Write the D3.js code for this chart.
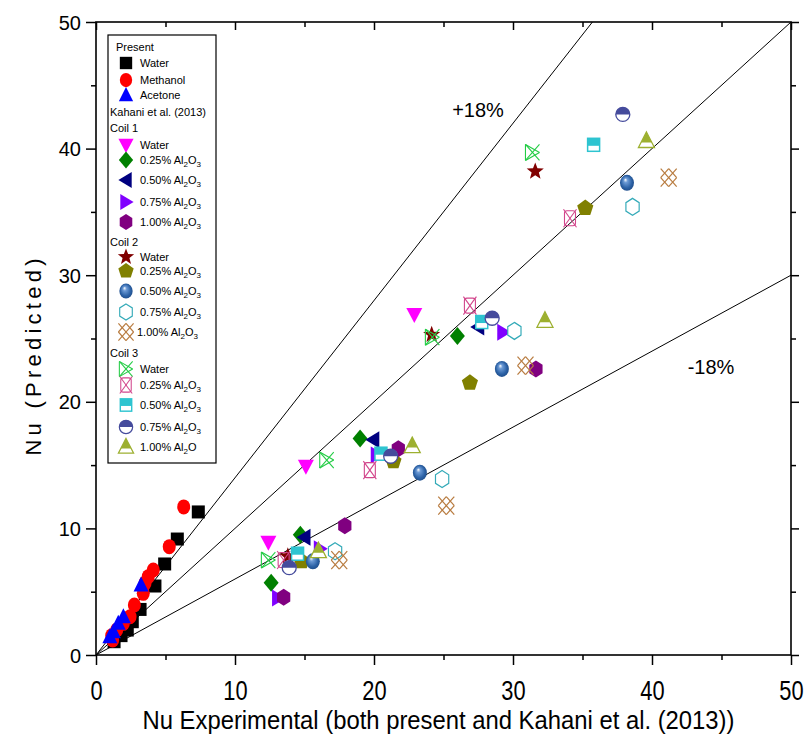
<!DOCTYPE html>
<html>
<head>
<meta charset="utf-8">
<script src="https://cdn.jsdelivr.net/npm/d3@7/dist/d3.min.js"></script>
<style>
  html, body { margin: 0; padding: 0; background: #fff; }
  svg { display: block; }
</style>
</head>
<body>
<svg id="chart" width="804" height="752"></svg>
<script>
// ---- Axis settings ----
const xDomain = [0, 50];
const yDomain = [0, 50];
const xTickValues = [0, 10, 20, 30, 40, 50];
const yTickValues = [0, 10, 20, 30, 40, 50];
const minorTickValues = [5, 15, 25, 35, 45];

// ---- Guide lines: y = slope * x ----
const guideSlopes = [1.4, 1.0, 0.6];
const guideLabels = ["+18%", "-18%"];

// ---- Present work ----
const presentWater = [[1.3,1.05],[1.8,1.53],[2.25,1.97],[2.61,2.63],[3.17,3.6],[4.24,5.45],[4.94,7.19],[5.85,9.16],[7.36,11.3]];
const presentMethanol = [[1.2,1.18],[1.13,1.53],[1.49,1.97],[1.97,2.5],[2.45,3.03],[2.76,3.95],[3.4,4.87],[3.53,5.68],[3.76,6.19],[4.12,6.71],[5.27,8.56],[6.31,11.7]];
const presentAcetone = [[1.0,1.45],[1.25,1.84],[1.6,2.5],[1.97,3.03],[3.24,5.53]];

// ---- Kahani et al. (2013), coil 1 ----
const coil1Water = [[12.4,8.9],[15.1,14.9],[22.9,26.9]];
const coil1Al025 = [[12.6,5.7],[14.7,9.5],[19.0,17.1],[26.0,25.2]];
const coil1Al050 = [[15.0,9.3],[19.95,17.0],[27.5,25.9]];
const coil1Al075 = [[13.1,4.5],[16.1,8.4],[20.2,15.8],[29.3,25.5]];
const coil1Al100 = [[13.5,4.56],[17.9,10.2],[21.75,16.3],[31.65,22.6]];

// ---- Kahani et al. (2013), coil 2 ----
const coil2Water = [[13.8,7.8],[24.15,25.3],[31.6,38.2]];
const coil2Al025 = [[14.8,7.4],[21.4,15.3],[26.9,21.5],[35.2,35.3]];
const coil2Al050 = [[15.6,7.4],[23.3,14.4],[29.2,22.6],[38.2,37.3]];
const coil2Al075 = [[17.2,8.2],[24.9,13.9],[30.1,25.6],[38.6,35.4]];
const coil2Al100 = [[17.5,7.5],[25.2,11.8],[30.9,22.85],[41.2,37.7]];

// ---- Kahani et al. (2013), coil 3 ----
const coil3Water = [[12.4,7.5],[16.6,15.4],[24.2,25.1],[31.4,39.7]];
const coil3Al025 = [[13.5,7.5],[19.7,14.6],[26.9,27.6],[34.1,34.5]];
const coil3Al050 = [[14.5,8.0],[20.5,15.9],[27.75,26.3],[35.8,40.3]];
const coil3Al075 = [[13.9,6.9],[21.2,15.7],[28.5,26.6],[37.9,42.7]];
const coil3Al100 = [[16.0,8.2],[22.75,16.5],[32.3,26.4],[39.6,40.6]];

// series: data, marker type, legend label (al = Al2O3 suffix)
const series = [
  {data: presentWater,    sym: "square",     label: "Water"},
  {data: presentMethanol, sym: "circle",     label: "Methanol"},
  {data: presentAcetone,  sym: "triUp",      label: "Acetone"},
  {data: coil1Water,      sym: "triDown",    label: "Water"},
  {data: coil1Al025,      sym: "diamond",    label: "0.25%", al: "full"},
  {data: coil1Al050,      sym: "triLeft",    label: "0.50%", al: "full"},
  {data: coil1Al075,      sym: "triRight",   label: "0.75%", al: "full"},
  {data: coil1Al100,      sym: "hexFill",    label: "1.00%", al: "full"},
  {data: coil2Water,      sym: "star",       label: "Water"},
  {data: coil2Al025,      sym: "pentagon",   label: "0.25%", al: "full"},
  {data: coil2Al050,      sym: "sphere",     label: "0.50%", al: "full"},
  {data: coil2Al075,      sym: "hexOpen",    label: "0.75%", al: "full"},
  {data: coil2Al100,      sym: "lattice",    label: "1.00%", al: "full"},
  {data: coil3Water,      sym: "triX",       label: "Water"},
  {data: coil3Al025,      sym: "xbox",       label: "0.25%", al: "full"},
  {data: coil3Al050,      sym: "halfSquare", label: "0.50%", al: "full"},
  {data: coil3Al075,      sym: "halfCircle", label: "0.75%", al: "full"},
  {data: coil3Al100,      sym: "halfTri",    label: "1.00%", al: "short"}
];

const svg = d3.select("#chart");
const pL = 96, pR = 791, pT = 22, pB = 655;

const x = d3.scaleLinear().domain(xDomain).range([pL, pR]);
const y = d3.scaleLinear().domain(yDomain).range([pB, pT]);

// gradient for the shaded sphere marker
const defs = svg.append("defs");
const grad = defs.append("radialGradient").attr("id", "sphereGrad")
  .attr("cx", "0.5").attr("cy", "0.5").attr("r", "0.55")
  .attr("fx", "0.38").attr("fy", "0.3");
grad.append("stop").attr("offset", "0").attr("stop-color", "#ffffff");
grad.append("stop").attr("offset", "0.25").attr("stop-color", "#6d9bd6");
grad.append("stop").attr("offset", "0.7").attr("stop-color", "#2c62a6");
grad.append("stop").attr("offset", "1").attr("stop-color", "#1d4a86");
defs.append("clipPath").attr("id", "plotClip").append("rect")
  .attr("x", pL).attr("y", pT).attr("width", pR - pL).attr("height", pB - pT);

function poly(n, r, rot) {
  const pts = [];
  for (let i = 0; i < n; i++) {
    const a = rot + i * 2 * Math.PI / n;
    pts.push([r * Math.cos(a), r * Math.sin(a)]);
  }
  return "M" + pts.map(p => p[0].toFixed(2) + "," + p[1].toFixed(2)).join("L") + "Z";
}
function starPath(ro, ri) {
  const pts = [];
  for (let i = 0; i < 10; i++) {
    const r = i % 2 === 0 ? ro : ri;
    const a = -Math.PI / 2 + i * Math.PI / 5;
    pts.push([r * Math.cos(a), r * Math.sin(a)]);
  }
  return "M" + pts.map(p => p[0].toFixed(2) + "," + p[1].toFixed(2)).join("L") + "Z";
}
function lines(g, segs, color, w) {
  segs.forEach(s => g.append("line").attr("x1", s[0]).attr("y1", s[1]).attr("x2", s[2]).attr("y2", s[3])
    .attr("stroke", color).attr("stroke-width", w));
}

// draws one marker into group g, centred at its origin
function drawSymbol(g, type) {
  switch (type) {
    case "square":
      g.append("rect").attr("x", -6.5).attr("y", -6.5).attr("width", 13).attr("height", 13).attr("fill", "#000");
      break;
    case "circle":
      g.append("ellipse").attr("rx", 6.5).attr("ry", 7.5).attr("fill", "#ff0000");
      break;
    case "triUp":
      g.append("path").attr("d", "M0,-8.5L7.5,6.5L-7.5,6.5Z").attr("fill", "#0000ff");
      break;
    case "triDown":
      g.append("path").attr("d", "M-8,-6.5L8,-6.5L0,8.5Z").attr("fill", "#ff00ff");
      break;
    case "diamond":
      g.append("path").attr("d", "M0,-9L7.5,0L0,9L-7.5,0Z").attr("fill", "#008000");
      break;
    case "triLeft":
      g.append("path").attr("d", "M-8,0L6,-8.5L6,8.5Z").attr("fill", "#000080");
      break;
    case "triRight":
      g.append("path").attr("d", "M8,0L-6,-8.5L-6,8.5Z").attr("fill", "#8000ff");
      break;
    case "hexFill":
      g.append("path").attr("d", poly(6, 8.5, -Math.PI / 2)).attr("fill", "#800080").attr("transform", "scale(0.9,1)");
      break;
    case "star":
      g.append("path").attr("d", starPath(9, 3.8)).attr("fill", "#800000");
      break;
    case "pentagon":
      g.append("path").attr("d", poly(5, 8.5, -Math.PI / 2)).attr("fill", "#808000");
      break;
    case "sphere":
      g.append("ellipse").attr("rx", 7).attr("ry", 8).attr("fill", "url(#sphereGrad)");
      break;
    case "hexOpen":
      g.append("path").attr("d", poly(6, 8.5, -Math.PI / 2)).attr("fill", "#fff")
        .attr("stroke", "#33aab8").attr("stroke-width", 1.3).attr("transform", "scale(0.9,1)");
      break;
    case "lattice":
      lines(g, [[-8,-9,8,9],[0,-9,8,0],[-8,0,0,9],[8,-9,-8,9],[0,-9,-8,0],[8,0,0,9]], "#b87b3f", 1.2);
      break;
    case "triX":
      lines(g, [[-7,-8,7,8],[-7,8,7,-8],[-7,-8,-7,8],[-7,-8,7,0],[-7,8,7,0]], "#22cc44", 1.1);
      break;
    case "xbox":
      g.append("rect").attr("x", -5.5).attr("y", -7.5).attr("width", 11).attr("height", 15).attr("rx", 2.5)
        .attr("fill", "none").attr("stroke", "#d2468c").attr("stroke-width", 1.1);
      lines(g, [[-6.5,-9,6.5,9],[6.5,-9,-6.5,9]], "#d2468c", 1.1);
      break;
    case "halfSquare":
      g.append("rect").attr("x", -6).attr("y", -6.5).attr("width", 12).attr("height", 13)
        .attr("fill", "#fff").attr("stroke", "#2ec4d0").attr("stroke-width", 1.5);
      g.append("rect").attr("x", -6).attr("y", -6.5).attr("width", 12).attr("height", 7.5).attr("fill", "#2ec4d0");
      break;
    case "halfCircle":
      g.append("circle").attr("r", 7).attr("fill", "#fff").attr("stroke", "#454b9c").attr("stroke-width", 1.3);
      g.append("path").attr("d", "M-7,0A7,7 0 0 1 7,0Z").attr("fill", "#454b9c");
      break;
    case "halfTri":
      g.append("path").attr("d", "M0,-9L8,6.5L-8,6.5Z").attr("fill", "#fff").attr("stroke", "#9db030").attr("stroke-width", 1.3);
      g.append("path").attr("d", "M0,-9L5.4,1.5L-5.4,1.5Z").attr("fill", "#9db030");
      break;
  }
}

// ---- Frame and ticks ----
const axisColor = "#000";
svg.append("rect").attr("x", pL).attr("y", pT).attr("width", pR - pL).attr("height", pB - pT)
  .attr("fill", "none").attr("stroke", axisColor).attr("stroke-width", 1.6);

function styleAxis(g) {
  g.select(".domain").remove();
  g.selectAll(".tick line").attr("stroke", axisColor).attr("stroke-width", 1.5);
}
const gxb = svg.append("g").attr("transform", `translate(0,${pB})`)
  .call(d3.axisBottom(x).tickValues(xTickValues).tickSize(10).tickFormat(d3.format("d"))).call(styleAxis);
// condensed, tall digits on the x axis
gxb.selectAll(".tick text")
  .attr("font-family", "'Liberation Sans', Arial, sans-serif")
  .attr("font-size", 28).attr("fill", "#000").attr("dy", 0).attr("y", 0)
  .attr("transform", "translate(0,45) scale(0.78,1)");
svg.append("g").attr("transform", `translate(0,${pB})`)
  .call(d3.axisBottom(x).tickValues(minorTickValues).tickSize(5).tickFormat("")).call(styleAxis);
const gyl = svg.append("g").attr("transform", `translate(${pL},0)`)
  .call(d3.axisLeft(y).tickValues(yTickValues).tickSize(10).tickFormat(d3.format("d"))).call(styleAxis);
gyl.selectAll(".tick text").attr("font-family", "'Liberation Sans', Arial, sans-serif")
  .attr("font-size", 20).attr("fill", "#000").attr("x", -15).attr("dy", "0.35em");
svg.append("g").attr("transform", `translate(${pL},0)`)
  .call(d3.axisLeft(y).tickValues(minorTickValues).tickSize(5).tickFormat("")).call(styleAxis);
// inward ticks on the top and right edges
svg.append("g").attr("transform", `translate(0,${pT})`)
  .call(d3.axisBottom(x).tickValues(xTickValues).tickSize(8).tickFormat("")).call(styleAxis);
svg.append("g").attr("transform", `translate(0,${pT})`)
  .call(d3.axisBottom(x).tickValues(minorTickValues).tickSize(5).tickFormat("")).call(styleAxis);
svg.append("g").attr("transform", `translate(${pR},0)`)
  .call(d3.axisLeft(y).tickValues(yTickValues).tickSize(-8).tickFormat("")).call(styleAxis);
svg.append("g").attr("transform", `translate(${pR},0)`)
  .call(d3.axisLeft(y).tickValues(minorTickValues).tickSize(-5).tickFormat("")).call(styleAxis);

// ---- Axis titles ----
svg.append("text").attr("x", (pL + pR) / 2 - 5).attr("y", 729).attr("text-anchor", "middle")
  .attr("font-family", "'Liberation Sans', Arial, sans-serif")
  .attr("font-size", 25).attr("textLength", 592).attr("lengthAdjust", "spacingAndGlyphs")
  .text("Nu Experimental (both present and Kahani et al. (2013))");
svg.append("text").attr("transform", "translate(41,357) rotate(-90)").attr("text-anchor", "middle")
  .attr("font-family", "'Liberation Sans', Arial, sans-serif").attr("font-size", 22)
  .attr("textLength", 197).attr("lengthAdjust", "spacing")
  .text("Nu (Predicted)");

// ---- Guide lines ----
const plot = svg.append("g").attr("clip-path", "url(#plotClip)");
const lineGen = d3.line().x(d => x(d[0])).y(d => y(d[1]));
guideSlopes.forEach(s => {
  plot.append("path").datum([[0, 0], [50, 50 * s]]).attr("d", lineGen)
    .attr("fill", "none").attr("stroke", "#000").attr("stroke-width", 1);
});
svg.append("text").attr("x", 478).attr("y", 117).attr("text-anchor", "middle")
  .attr("font-family", "'Liberation Sans', Arial, sans-serif").attr("font-size", 20).text(guideLabels[0]);
svg.append("text").attr("x", 711).attr("y", 374).attr("text-anchor", "middle")
  .attr("font-family", "'Liberation Sans', Arial, sans-serif").attr("font-size", 20).text(guideLabels[1]);

// ---- Data markers ----
series.forEach(s => {
  const g = svg.append("g");
  s.data.forEach(d => {
    const m = g.append("g").attr("transform", `translate(${x(d[0])},${y(d[1])})`);
    drawSymbol(m, s.sym);
  });
});

// ---- Legend ----
const legend = svg.append("g");
legend.append("rect").attr("x", 108).attr("y", 35).attr("width", 108).attr("height", 428)
  .attr("fill", "#fff").attr("stroke", "#000").attr("stroke-width", 1.2);
const legFont = "'Liberation Sans', Arial, sans-serif";
const headings = [["Present", 116, 47], ["Kahani et al. (2013)", 110, 112], ["Coil 1", 110, 128], ["Coil 2", 110, 242], ["Coil 3", 110, 353]];
headings.forEach(h => legend.append("text").attr("x", h[1]).attr("y", h[2]).attr("dy", "0.35em")
  .attr("font-family", legFont).attr("font-size", 11).text(h[0]));
const legRows = [63, 80, 95, 145, 160, 180, 202, 222, 257, 271, 291, 312, 332, 369, 385, 405, 427, 447];
series.forEach((s, i) => {
  const yy = legRows[i];
  const m = legend.append("g").attr("transform", `translate(126,${yy}) scale(0.95)`);
  drawSymbol(m, s.sym);
  const tx = s.sym === "lattice" ? 137 : 140;
  const t = legend.append("text").attr("x", tx).attr("y", yy).attr("dy", "0.35em")
    .attr("font-family", legFont).attr("font-size", 11);
  if (s.al) {
    t.append("tspan").text(s.label + " Al");
    t.append("tspan").attr("dy", 3).attr("font-size", 8).text("2");
    t.append("tspan").attr("dy", -3).text("O");
    if (s.al === "full") t.append("tspan").attr("dy", 3).attr("font-size", 8).text("3");
  } else {
    t.text(s.label);
  }
});
</script>
</body>
</html>
